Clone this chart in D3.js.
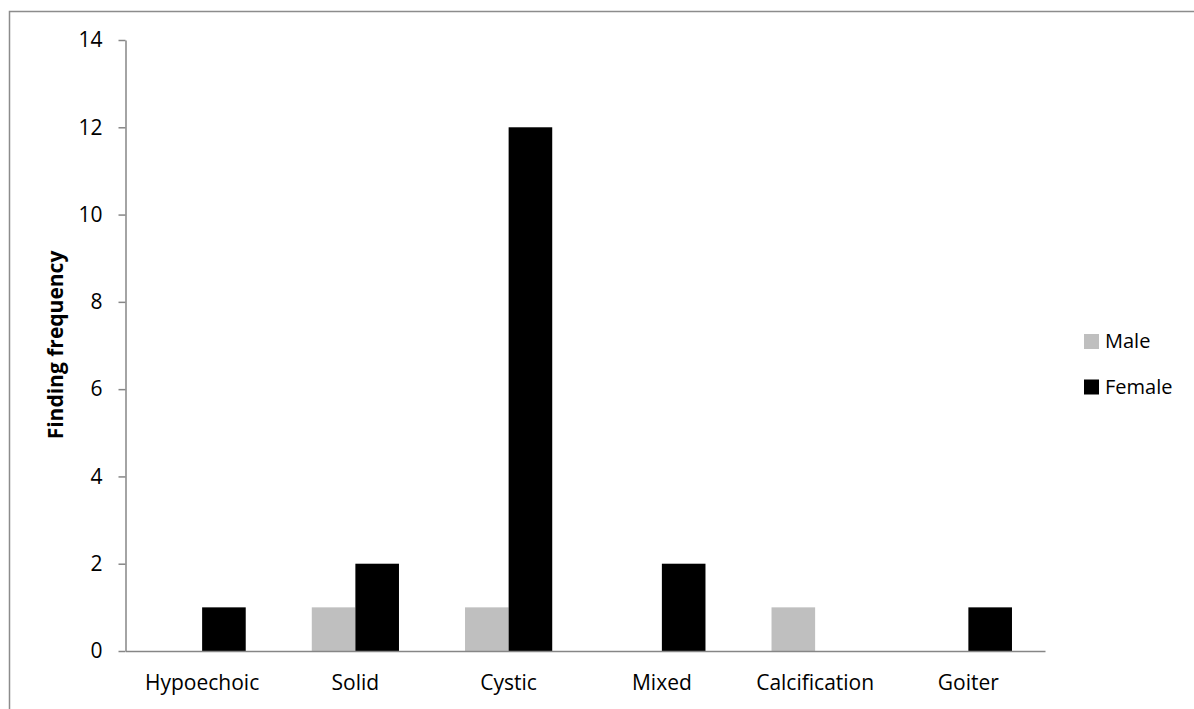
<!DOCTYPE html>
<html><head><meta charset="utf-8">
<script src="https://cdn.jsdelivr.net/npm/d3@7/dist/d3.min.js"></script>
<style>body{margin:0;background:#fff}svg{display:block}text{font-family:"Open Sans",sans-serif;fill:#000}</style>
</head><body><svg id="c" width="1194" height="709"></svg>
<script>
const categories = ["Hypoechoic","Solid","Cystic","Mixed","Calcification","Goiter"];
const seriesNames = ["Male","Female"];
const male = [0,1,1,0,1,0];
const female = [1,2,12,2,0,1];
const yTicks = [0,2,4,6,8,10,12,14];
const colors = ["#bfbfbf","#000000"];

const svg = d3.select("#c");
// outer border
svg.append("path").attr("d","M9.5,709 L9.5,11.5 L1194,11.5").attr("fill","none").attr("stroke","#8c8c8c").attr("stroke-width",1.5);

const x0 = d3.scaleBand().domain(categories).range([125.5,1045]);
const y = d3.scaleLinear().domain([0,14]).range([651,40]);
const barW = 43.6;
const x1 = d3.scaleBand().domain(seriesNames).range([-barW, barW]);
const values = [male, female];

const g = svg.append("g");
categories.forEach((c,i)=>{
  seriesNames.forEach((s,j)=>{
    const v = values[j][i];
    if(v<=0) return;
    g.append("rect")
      .attr("x", x0(c)+x0.bandwidth()/2 + x1(s))
      .attr("y", y(v))
      .attr("width", x1.bandwidth())
      .attr("height", y(0)-y(v))
      .attr("fill", colors[j]);
  });
});

// y axis
const yAxis = d3.axisLeft(y).tickValues(yTicks).tickSize(7).tickSizeOuter(0).tickPadding(16);
const ya = svg.append("g").attr("transform","translate(125.5,0)").call(yAxis);
ya.select(".domain").attr("stroke","#868686").attr("stroke-width",1.5);
ya.selectAll(".tick line").attr("stroke","#868686").attr("stroke-width",1.5);
ya.selectAll(".tick text").attr("font-size",21).attr("font-family","Open Sans").attr("fill","#000");

// x axis
const xAxis = d3.axisBottom(x0).tickSize(0).tickSizeOuter(0).tickPadding(24);
const xa = svg.append("g").attr("transform","translate(0,651)").call(xAxis);
xa.select(".domain").attr("stroke","#868686").attr("stroke-width",1.5);
xa.selectAll(".tick text").attr("font-size",21).attr("font-family","Open Sans").attr("fill","#000");

// axis title
svg.append("text").attr("transform","translate(63,345) rotate(-90)")
  .attr("text-anchor","middle").attr("font-size",21).attr("font-weight","bold")
  .text("Finding frequency");

// legend
const leg = svg.append("g");
seriesNames.forEach((s,j)=>{
  const yy = 334 + j*45.5;
  leg.append("rect").attr("x",1084).attr("y",yy).attr("width",15).attr("height",15).attr("fill",colors[j]);
  leg.append("text").attr("x",1105).attr("y",yy+14).attr("font-size",20).text(s);
});
</script></body></html>
